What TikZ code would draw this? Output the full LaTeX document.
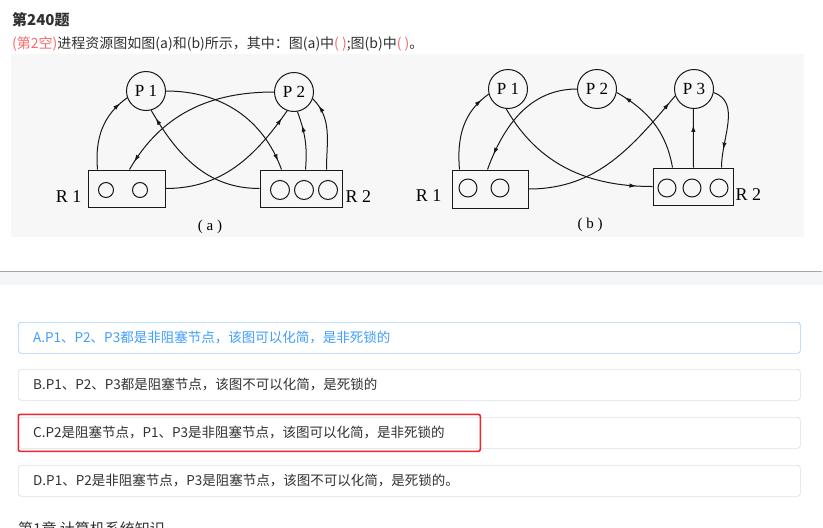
\documentclass[tikz,border=0pt]{standalone}
\usepackage{fontspec}
\setmainfont{Noto Sans CJK SC}
\newfontfamily\figfont{Liberation Serif}
\usepackage{tikz}
\usetikzlibrary{arrows.meta, positioning, decorations.markings}
\definecolor{linkblue}{HTML}{409EFF}
\definecolor{lightblue}{HTML}{A0CFFF}
\definecolor{cardgray}{HTML}{DCDFE6}
\definecolor{textgray}{HTML}{303133}
\definecolor{hintred}{HTML}{F56C6C}
\definecolor{boxred}{HTML}{F5222D}
\definecolor{bandgray}{HTML}{F5F6FA}
\definecolor{figbg}{HTML}{F7F7F7}

\begin{document}
\begin{tikzpicture}[
        x=1pt, y=-1pt,
        proc/.style={
            circle, draw=black!90, line width=1pt,
            minimum size=39pt, inner sep=0pt,
            font=\figfont\fontsize{17}{17}\selectfont
        },
        res/.style={
            rectangle, draw=black!90, line width=1pt,
            minimum height=37pt, inner sep=0pt
        },
        slot/.style={
            circle, draw=black!90, line width=1pt,
            minimum size=#1, inner sep=0pt
        },
        slot/.default=18pt,
        reslabel/.style={font=\figfont\fontsize{18}{18}\selectfont, inner sep=0pt},
        caption/.style={font=\figfont\fontsize{15}{15}\selectfont, inner sep=0pt},
        edge/.style={
            line width=1pt, draw=black!90, postaction={decorate},
            decoration={markings,
                mark=at position -#1 with {\arrow{Latex[length=7pt,width=4.4pt]}}}
        },
        edge/.default=9pt,
        option/.style={
            rectangle, rounded corners=3pt, draw=cardgray, line width=0.7pt,
            minimum width=782pt, minimum height=31pt, inner sep=0pt,
            anchor=north west
        },
        optiontext/.style={
            anchor=west, inner sep=0pt, text=textgray,
            font=\fontsize{13.5}{14}\selectfont
        }
    ]

    \useasboundingbox (0,0) rectangle (823,528);
    \clip (0,0) rectangle (823,528);
    \fill[white] (0,0) rectangle (823,528);

    % QUESTION HEADER
    \node[anchor=west, inner sep=0pt, text=textgray,
          font=\bfseries\fontsize{15}{15}\selectfont] (title) at (12,20) {第240题};
    \node[anchor=west, inner sep=0pt, text=textgray,
          font=\fontsize{14}{14}\selectfont] (stem) at (12,44)
        {\textcolor{hintred}{(第2空)}进程资源图如图(a)和(b)所示，其中：图(a)中\textcolor{hintred}{( )};图(b)中\textcolor{hintred}{( )}。};

    \fill[figbg] (11,54) rectangle (804,237);

    % FIGURE (a)
    \node[proc] (p1a) at (146,91) {P 1};
    \node[proc] (p2a) at (294,92) {P 2};
    \node[res, minimum width=77pt] (r1a) at (126.5,188.5) {};
    \node[res, minimum width=82pt] (r2a) at (301,188.5) {};
    \node[slot=15pt] (r1a1) at (106,190) {};
    \node[slot=15pt] (r1a2) at (140,190) {};
    \node[slot=19pt] (r2a1) at (280,190) {};
    \node[slot=19pt] (r2a2) at (304,190) {};
    \node[slot=19pt] (r2a3) at (328,190) {};
    \node[reslabel, left=6pt of r1a, yshift=-8pt] (r1alab) {R 1};
    \node[reslabel, right=3pt of r2a, yshift=-8pt] (r2alab) {R 2};
    \node[caption] (capa) at (210,227) {( a )};

    \draw[edge] ([xshift=10pt]r1a.north west) to[out=95,in=215] (p1a.200);
    \draw[edge] (r2a.west) to[out=180,in=-60] (p1a.-75);
    \draw[edge] (p1a.east) to[out=0,in=110] ([xshift=22pt]r2a.north west);
    \draw[edge] (p2a.west) to[out=180,in=60] ([xshift=42pt]r1a.north west);
    \draw[edge] (r1a.east) to[out=0,in=235] (p2a.-110);
    \draw[edge=14pt] ([xshift=46pt]r2a.north west) to[out=85,in=-70] (p2a.-80);
    \draw[edge] ([xshift=67pt]r2a.north west) to[out=90,in=-45] (p2a.-20);

    % FIGURE (b)
    \node[proc] (p1b) at (508,89) {P 1};
    \node[proc] (p2b) at (597,89) {P 2};
    \node[proc] (p3b) at (694,89) {P 3};
    \node[res, minimum width=76pt, minimum height=38pt] (r1b) at (490,189) {};
    \node[res, minimum width=80pt] (r2b) at (693,186.5) {};
    \node[slot] (r1b1) at (468,188) {};
    \node[slot] (r1b2) at (500,188) {};
    \node[slot] (r2b1) at (667,188) {};
    \node[slot] (r2b2) at (692,188) {};
    \node[slot] (r2b3) at (719,188) {};
    \node[reslabel, left=10pt of r1b, yshift=-7pt] (r1blab) {R 1};
    \node[reslabel, right=2pt of r2b, yshift=-8pt] (r2blab) {R 2};
    \node[caption] (capb) at (590,225) {( b )};

    \draw[edge] ([xshift=8pt]r1b.north west) to[out=95,in=215] (p1b.195);
    \draw[edge=16pt] (p1b.-95) to[out=-60,in=180] (r2b.west);
    \draw[edge=16pt] (p2b.west) to[out=180,in=70] ([xshift=36pt]r1b.north west);
    \draw[edge] (r1b.east) to[out=0,in=230] (p3b.200);
    \draw[edge] ([xshift=20pt]r2b.north west) to[out=100,in=-30] (p2b.-10);
    \draw[edge=16pt] ([xshift=41pt]r2b.north west) -- (p3b.-92);
    \draw[edge=18pt] (p3b.-10) to[out=-20,in=90] ([xshift=69pt]r2b.north west);

    % CARD EDGE
    \fill[bandgray] (0,272) rectangle (823,285);
    \draw[gray!70, line width=1pt] (0,271.5) -- (822,271.5);

    % OPTIONS
    \node[option, draw=lightblue] (optA) at (18,322) {};
    \node[optiontext, text=linkblue] (optAtext) at ([xshift=15pt]optA.west)
        {A.P1、P2、P3都是非阻塞节点，该图可以化简，是非死锁的};
    \node[option] (optB) at (18,369) {};
    \node[optiontext] (optBtext) at ([xshift=15pt]optB.west)
        {B.P1、P2、P3都是阻塞节点，该图不可以化简，是死锁的};
    \node[option] (optC) at (18,417) {};
    \node[optiontext] (optCtext) at ([xshift=15pt]optC.west)
        {C.P2是阻塞节点，P1、P3是非阻塞节点，该图可以化简，是非死锁的};
    \node[option] (optD) at (18,465) {};
    \node[optiontext] (optDtext) at ([xshift=15pt]optD.west)
        {D.P1、P2是非阻塞节点，P3是阻塞节点，该图不可以化简，是死锁的。};

    % SELECTED ANSWER
    \node[draw=boxred, line width=1.6pt, rounded corners=2pt, inner sep=0pt,
          minimum width=462pt, minimum height=37pt, anchor=north west] (pick) at (17.5,413.5) {};

    % NEXT SECTION
    \node[anchor=north west, inner sep=0pt, text=textgray,
          font=\fontsize{15}{15}\selectfont] (chapter) at (18,521) {第1章 计算机系统知识};

\end{tikzpicture}
\end{document}
